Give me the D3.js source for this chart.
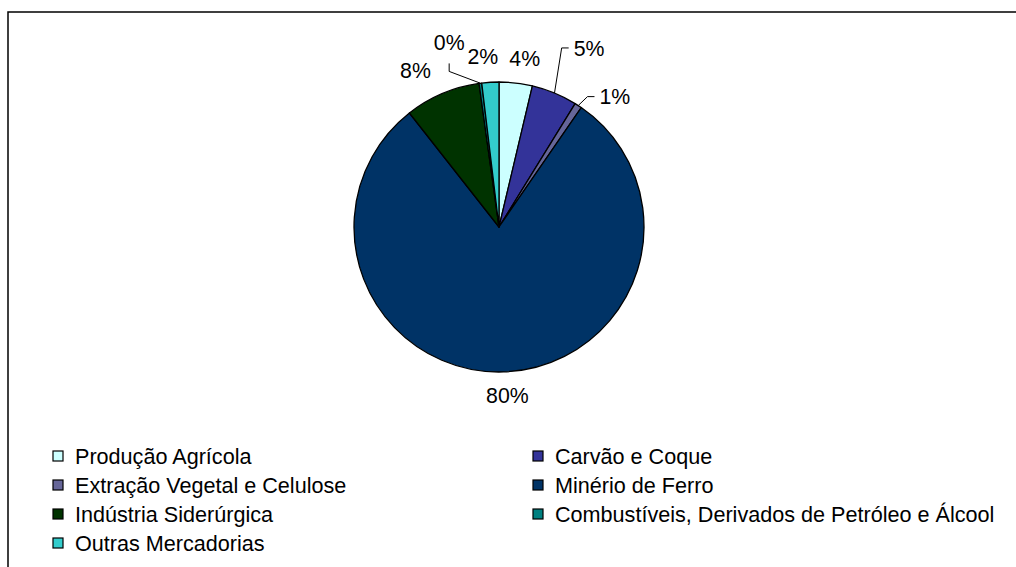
<!DOCTYPE html>
<html>
<head>
<meta charset="utf-8">
<script src="https://cdn.jsdelivr.net/npm/d3@7"></script>
<style>
  body { margin: 0; background: white; }
  svg { display: block; }
</style>
</head>
<body>
<script>
var width = 1016;
var height = 567;
var centerX = 499;
var centerY = 227;
var pieRadius = 145;
var labelRadius = 170;

// data (share of total, %)
var categories = [
    "Produção Agrícola",
    "Carvão e Coque",
    "Extração Vegetal e Celulose",
    "Minério de Ferro",
    "Indústria Siderúrgica",
    "Combustíveis, Derivados de Petróleo e Álcool",
    "Outras Mercadorias"
];
var values = [3.7, 5.1, 0.8, 79.8, 8.4, 0.3, 1.9];
var colors = ["#CCFFFF", "#333399", "#666699", "#003366", "#003300", "#008080", "#33CCCC"];

// small nudges of the data labels, and which ones get a leader line
var labelNudge = [[6, 0], [25, -22], [23, 12], [3, -2], [-17, 0], [-28, -16], [-6, -1]];
var leaderStyle = [null, "side", "side", null, null, "below", null];

var svg = d3.select("body")
            .append("svg")
            .attr("width", width)
            .attr("height", height);

svg.append("rect")
    .attr("width", width)
    .attr("height", height)
    .attr("fill", "white");

// chart frame (runs off the right and bottom edges)
svg.append("rect")
    .attr("x", 8)
    .attr("y", 12)
    .attr("width", 1100)
    .attr("height", 700)
    .attr("fill", "none")
    .attr("stroke", "#000")
    .attr("stroke-width", 1.5);

var total = d3.sum(values);
var data = values.map(function(v, i) {
    return { name: categories[i], value: v, color: colors[i], i: i };
});

var pie = d3.pie()
            .value(d => d.value)
            .sort(null);

var arc = d3.arc()
            .innerRadius(0)
            .outerRadius(pieRadius);

var arcs = pie(data);

var g = svg.append("g")
           .attr("transform", "translate(" + centerX + "," + centerY + ")");

g.selectAll("path.slice")
    .data(arcs)
    .enter()
    .append("path")
    .attr("class", "slice")
    .attr("d", arc)
    .attr("fill", d => d.data.color)
    .attr("stroke", "#000")
    .attr("stroke-width", 1.3)
    .attr("stroke-linejoin", "round");

function polar(angle, r) {
    return [r * Math.sin(angle), -r * Math.cos(angle)];
}

var labelFont = "'Liberation Sans', Arial, sans-serif";

arcs.forEach(function(d) {
    var mid = (d.startAngle + d.endAngle) / 2;
    var p = polar(mid, labelRadius);
    var nudge = labelNudge[d.data.i];
    var lx = p[0] + nudge[0];
    var ly = p[1] + nudge[1];
    var txt = Math.round(d.data.value / total * 100) + "%";

    var label = g.append("text")
        .attr("x", lx)
        .attr("y", ly)
        .attr("dy", "0.36em")
        .style("text-anchor", "middle")
        .style("font-family", labelFont)
        .style("font-size", "21.3px")
        .attr("fill", "#000")
        .text(txt);

    var style = leaderStyle[d.data.i];
    if (style) {
        var w = label.node().getComputedTextLength();
        var edge = polar(mid, pieRadius);
        var pts;
        if (style == "side") {
            var left = lx - w / 2;
            pts = [edge, [left - 12, ly], [left - 5, ly]];
        } else {
            pts = [edge, [lx, ly + 29], [lx, ly + 21]];
        }
        g.append("path")
            .attr("d", d3.line()(pts))
            .attr("fill", "none")
            .attr("stroke", "#000")
            .attr("stroke-width", 1);
    }
});

// legend, two columns
var legendX = [53, 533];
var legendY0 = 456;
var legendRowH = 29;
var swatch = 10;

var legend = svg.selectAll("g.legend")
    .data(data)
    .enter()
    .append("g")
    .attr("class", "legend")
    .attr("transform", function(d, i) {
        return "translate(" + legendX[i % 2] + "," + (legendY0 + Math.floor(i / 2) * legendRowH) + ")";
    });

legend.append("rect")
    .attr("x", 0)
    .attr("y", -swatch / 2)
    .attr("width", swatch)
    .attr("height", swatch)
    .attr("fill", d => d.color)
    .attr("stroke", "#000")
    .attr("stroke-width", 1.2);

legend.append("text")
    .attr("x", 22)
    .attr("y", 0)
    .attr("dy", "0.36em")
    .style("font-family", labelFont)
    .style("font-size", "21.6px")
    .attr("fill", "#000")
    .text(d => d.name);
</script>
</body>
</html>
